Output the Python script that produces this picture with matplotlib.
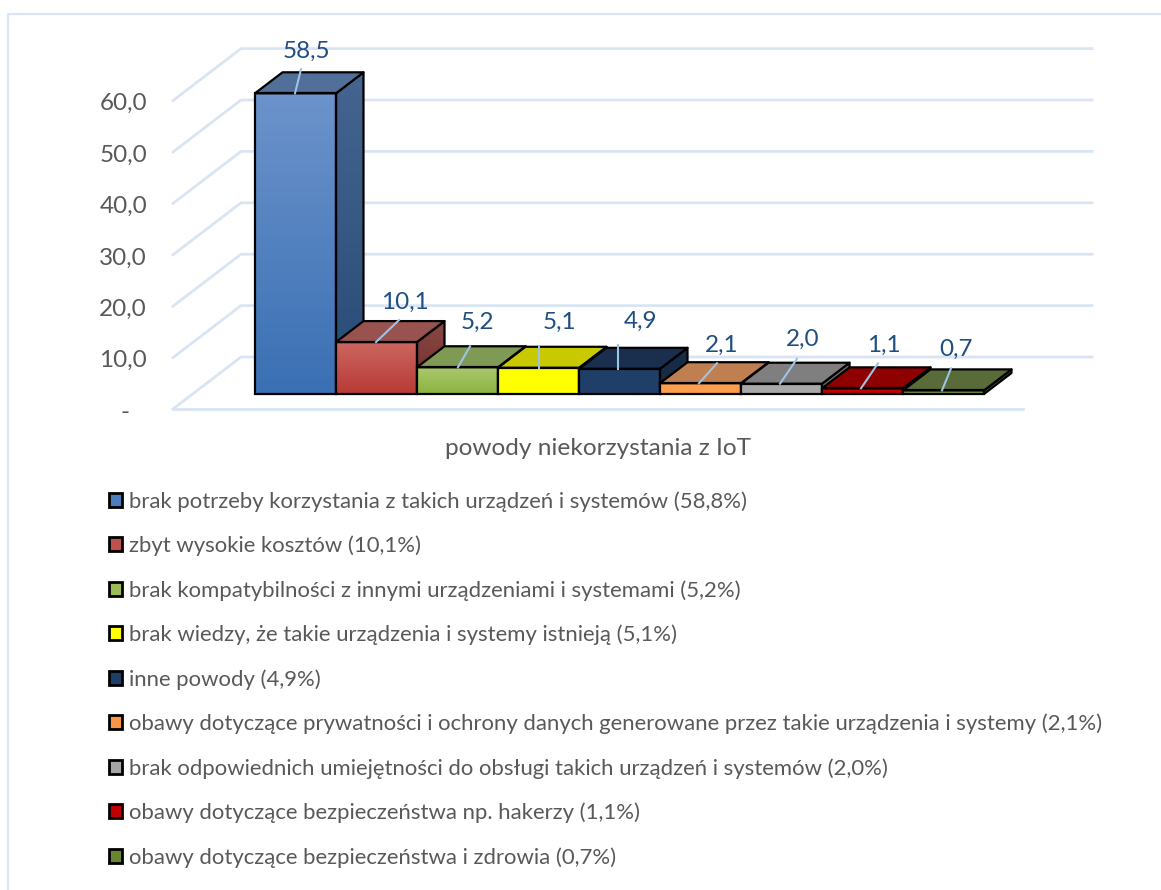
import numpy as np
import matplotlib
matplotlib.use('Agg')
import matplotlib.pyplot as plt
from matplotlib.lines import Line2D
from matplotlib.patches import Patch, Polygon, Rectangle
from matplotlib.colors import LinearSegmentedColormap

values = [58.5, 10.1, 5.2, 5.1, 4.9, 2.1, 2.0, 1.1, 0.7]
labels = ['brak potrzeby korzystania z takich urządzeń i systemów (58,8%)',
          'zbyt wysokie kosztów (10,1%)',
          'brak kompatybilności z innymi urządzeniami i systemami (5,2%)',
          'brak wiedzy, że takie urządzenia i systemy istnieją (5,1%)',
          'inne powody (4,9%)',
          'obawy dotyczące prywatności i ochrony danych generowane przez takie urządzenia i systemy (2,1%)',
          'brak odpowiednich umiejętności do obsługi takich urządzeń i systemów (2,0%)',
          'obawy dotyczące bezpieczeństwa np. hakerzy (1,1%)',
          'obawy dotyczące bezpieczeństwa i zdrowia (0,7%)']
value_text = ['58,5', '10,1', '5,2', '5,1', '4,9', '2,1', '2,0', '1,1', '0,7']
ticks = [0, 10, 20, 30, 40, 50, 60]
tick_text = ['-', '10,0', '20,0', '30,0', '40,0', '50,0', '60,0']
axis_title = 'powody niekorzystania z IoT'

# gradient colours per bar
front_top = ['#6C93CB', '#CC6660', '#AAC86E', '#FFFF00', '#1F3F68', '#FF9E4E', '#A9A9A9', '#C00000', '#76923C']
front_bot = ['#3A70B4', '#B83A36', '#8DB33F', '#FFFF00', '#1F3F68', '#FF9E4E', '#A9A9A9', '#C00000', '#76923C']
top_col = ['#516F98', '#985350', '#7F9A55', '#C9C900', '#1A2F4E', '#C07F50', '#7F7F7F', '#8F0000', '#5A6B3A']
side_top = ['#456590', '#8A4744', '#6F8A45', '#B5B500', '#172A46', '#B0703F', '#6F6F6F', '#800000', '#4E5E30']
side_bot = ['#274B76', '#6F2F2C', '#5F7A35', '#A5A500', '#172A46', '#B0703F', '#6F6F6F', '#800000', '#4E5E30']
legend_col = ['#4A7EBE', '#C0504D', '#9BBB59', '#FFFF00', '#1F3F68', '#F79646', '#A5A5A5', '#C00000', '#6B8434']

W, H = 1161, 890
PX_X, PX_Y = 81.0, 5.14     # pixels per category / per percent
X0, Y0 = 255.0, 394.0       # pixel of first bar's front bottom left corner
DX, DY = 27.5 / PX_X, 21.0 / PX_Y   # depth of the 3d bars
GRID_LEFT = (173 - X0) / PX_X
GRID_BACK = (241 - X0) / PX_X
GRID_RIGHT = (1092 - X0) / PX_X
FLOOR_RIGHT = (1023 - X0) / PX_X
FRONT0 = (Y0 - 409) / PX_Y
BACK0 = (Y0 - 357) / PX_Y

plt.rcParams['font.family'] = ['Lato', 'DejaVu Sans']
text_col = '#595959'
grid_col = '#DAE5F4'
label_col = '#1F4E82'
lead_col = '#9DC3E6'

fig = plt.figure(figsize=(W / 100, H / 100), dpi=100, facecolor='white')
ax = fig.add_axes([0, 0, 1, 1])
ax.set_xlim(-X0 / PX_X, (W - X0) / PX_X)
ax.set_ylim((Y0 - H) / PX_Y, Y0 / PX_Y)
ax.axis('off')

# chart frame, only its left and top edge are inside the picture
fig.add_artist(Line2D([8 / W, 8 / W, 1], [0, 1 - 14 / H, 1 - 14 / H], transform=fig.transFigure,
                      color=grid_col, lw=1.6))

# walls
for t in ticks:
    back = BACK0 + t
    front = FRONT0 + t
    ax.plot([GRID_LEFT, GRID_BACK, GRID_RIGHT], [front, back, back], color=grid_col, lw=2, zorder=1)
ax.plot([GRID_LEFT, FLOOR_RIGHT], [FRONT0, FRONT0], color=grid_col, lw=2, zorder=1)

for t, s in zip(ticks, tick_text):
    ax.text((147 - X0) / PX_X if t else (125 - X0) / PX_X, FRONT0 + t - 0.6, s, ha='right' if t else 'center',
            va='center', fontsize=17.5, color=text_col)

# bars, left to right so later ones cover the earlier side faces
z = 3
for i, v in enumerate(values):
    grad = LinearSegmentedColormap.from_list('g', [front_top[i], front_bot[i]])
    ax.imshow(np.linspace(0, 1, 64)[:, None], extent=[i, i + 1, 0, v], aspect='auto',
              cmap=grad, zorder=z, origin='upper')
    grad2 = LinearSegmentedColormap.from_list('s', [side_top[i], side_bot[i]])
    corners = [(i + 1, 0), (i + 1, v), (i + 1 + DX, v + DY), (i + 1 + DX, DY)]
    side = Polygon(corners, closed=True, fc='none', ec='none', zorder=z)
    ax.add_patch(side)
    im2 = ax.imshow(np.linspace(0, 1, 64)[:, None], extent=[i + 1, i + 1 + DX, 0, v + DY], aspect='auto',
                    cmap=grad2, zorder=z, origin='upper')
    im2.set_clip_path(side)
    ax.add_patch(Polygon(corners, closed=True, fill=False, ec='black', lw=1.6, zorder=z + 0.1, joinstyle='round'))
    ax.add_patch(Polygon([(i, v), (i + 1, v), (i + 1 + DX, v + DY), (i + DX, v + DY)], closed=True,
                         fc=top_col[i], ec='black', lw=1.6, zorder=z + 0.1, joinstyle='round'))
    ax.add_patch(Rectangle((i, 0), 1, v, fill=False, ec='black', lw=1.6, zorder=z + 0.1))
    z += 1
ax.set_xlim(-X0 / PX_X, (W - X0) / PX_X)
ax.set_ylim((Y0 - H) / PX_Y, Y0 / PX_Y)

# data labels with their leader lines (pixel offsets from the bar top left corner)
lead_from = [40, 40, 41, 41, 39, 39, 39, 39, 39]
lead_dx = [6, 23, 12, 0, 0, 18, 17, 17, 9]
lead_dy = [24, 22, 21, 22, 24, 20, 25, 25, 22]
text_dx = [51, 69, 60, 61, 61, 62, 62, 62, 53]
text_dy = [42, 40, 45, 45, 47, 38, 44, 43, 41]
for i, v in enumerate(values):
    x = i + lead_from[i] / PX_X
    ax.plot([x, x + lead_dx[i] / PX_X], [v, v + lead_dy[i] / PX_Y], color=lead_col, lw=1.5, zorder=30)
    ax.text(i + text_dx[i] / PX_X, v + text_dy[i] / PX_Y, value_text[i], ha='center', va='center',
            fontsize=17.5, color=label_col, zorder=31)

ax.text((598 - X0) / PX_X, (Y0 - 448) / PX_Y, axis_title, ha='center', va='center', fontsize=17.6, color=text_col)

handles = [Patch(facecolor=c, edgecolor='black', lw=2.0) for c in legend_col]
leg = ax.legend(handles, labels, loc='upper left', bbox_to_anchor=(109 / W, 1 - 491 / H),
                bbox_transform=fig.transFigure, frameon=False, fontsize=15.95, labelcolor=text_col,
                handlelength=0.6, handleheight=0.6, handletextpad=0.3, labelspacing=1.08,
                borderpad=0, borderaxespad=0)

fig.savefig('out.png', dpi=100)
